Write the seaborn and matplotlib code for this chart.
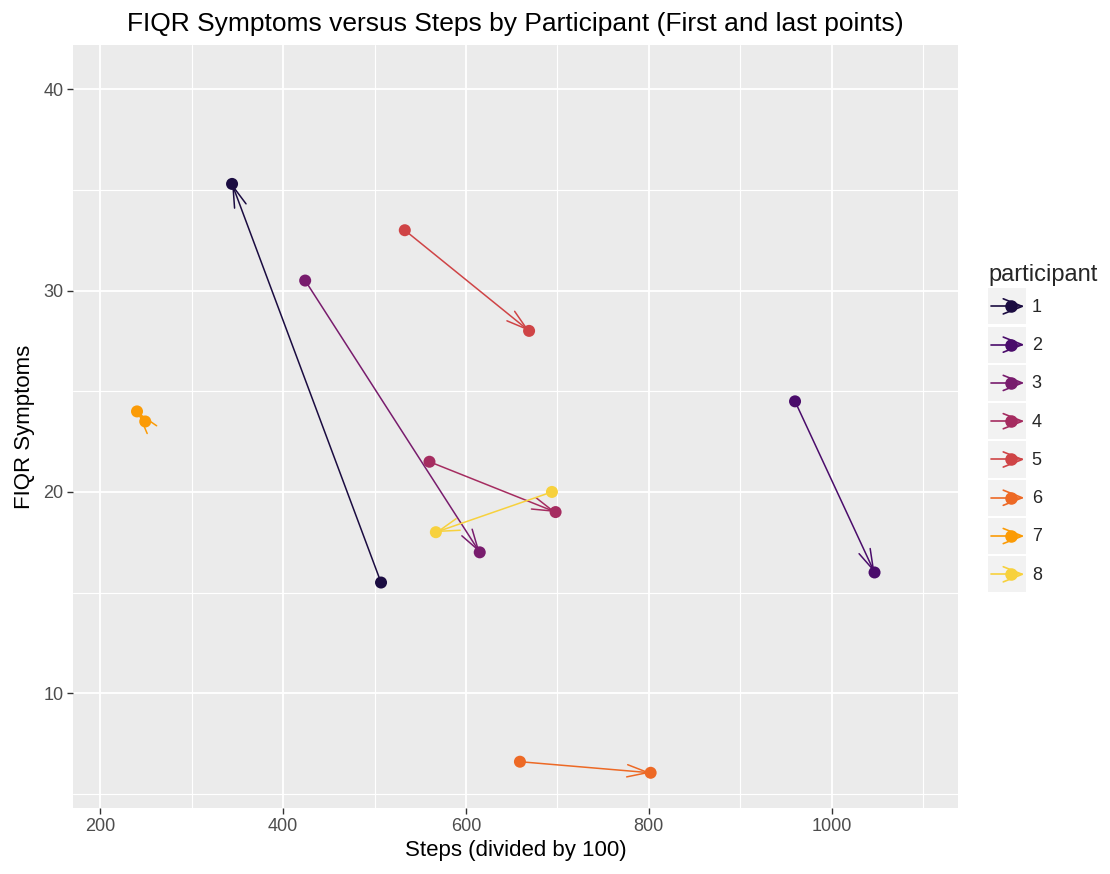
import matplotlib
matplotlib.use("Agg")
import pandas as pd
import matplotlib.pyplot as plt
import seaborn as sns
from matplotlib.lines import Line2D
from matplotlib.patches import Rectangle
from matplotlib.legend_handler import HandlerBase
from matplotlib.ticker import MultipleLocator

# First and last observation per participant
participants = [1, 2, 3, 4, 5, 6, 7, 8]
first_steps = [507, 960, 424, 560, 533, 659, 249, 694]
first_fiqr = [15.5, 24.5, 30.5, 21.5, 33.0, 6.6, 23.5, 20.0]
last_steps = [344, 1047, 615, 698, 669, 802, 240, 567]
last_fiqr = [35.3, 16.0, 17.0, 19.0, 28.0, 6.05, 24.0, 18.0]

x_ticks = [200, 400, 600, 800, 1000]
y_ticks = [10, 20, 30, 40]

first = pd.DataFrame({'participant': participants, 'steps': first_steps, 'fiqr': first_fiqr})
last = pd.DataFrame({'participant': participants, 'steps': last_steps, 'fiqr': last_fiqr})
points = pd.concat([first, last], ignore_index=True)
points['participant'] = points['participant'].astype(str)

palette = sns.color_palette('inferno', len(participants))
colors = dict(zip([str(p) for p in participants], palette))

sns.set_theme(style='darkgrid', rc={'axes.facecolor': '#EBEBEB', 'grid.color': 'white'})
plt.rcParams['font.family'] = ['Liberation Sans', 'DejaVu Sans']

fig = plt.figure(figsize=(11.1, 8.74), dpi=100)
ax = fig.add_axes([0.0658, 0.0755, 0.797, 0.873])

# arrows from first to last point
for i, p in enumerate(participants):
    ax.annotate('', xy=(last_steps[i], last_fiqr[i]), xytext=(first_steps[i], first_fiqr[i]),
                arrowprops=dict(arrowstyle='->,head_length=0.75,head_width=0.22',
                                color=palette[i], lw=1.1, shrinkA=0, shrinkB=0,
                                mutation_scale=20), zorder=3)

sns.scatterplot(data=points, x='steps', y='fiqr', hue='participant', palette=colors,
                s=75, edgecolor='none', legend=False, ax=ax, zorder=4)

ax.set_xlim(170, 1138)
ax.set_ylim(4.3, 42.2)
ax.set_xticks(x_ticks)
ax.set_yticks(y_ticks)
ax.xaxis.set_minor_locator(MultipleLocator(100))
ax.yaxis.set_minor_locator(MultipleLocator(5))
ax.grid(which='major', color='white', linewidth=1.3)
ax.grid(which='minor', color='white', linewidth=0.8)
for s in ax.spines.values():
    s.set_visible(False)
ax.tick_params(axis='both', which='major', length=4, width=1, color='#333333',
               labelcolor='#4D4D4D', labelsize=13, direction='out', bottom=True, left=True, pad=3)
ax.tick_params(which='minor', length=0)

ax.set_xlabel('Steps (divided by 100)', fontsize=16, color='black', labelpad=4)
ax.set_ylabel('FIQR Symptoms', fontsize=16, color='black', labelpad=6)
ax.set_title('FIQR Symptoms versus Steps by Participant (First and last points)',
             fontsize=19, color='black', pad=10)


class ArrowKey(HandlerBase):
    def create_artists(self, legend, orig_handle, xdescent, ydescent, width, height, fontsize, trans):
        c = orig_handle.get_color()
        bg = Rectangle((-xdescent, -ydescent), width, height, facecolor='#F2F2F2',
                       edgecolor='none', transform=trans)
        y = -ydescent + height / 2
        x0, x1 = -xdescent + 2, -xdescent + width - 3
        line = Line2D([x0, x1], [y, y], color=c, lw=1.2, transform=trans)
        h = width * 0.5
        head = Line2D([x1 - h, x1, x1 - h], [y + h * 0.4, y, y - h * 0.4], color=c, lw=1.2,
                      transform=trans)
        dot = Line2D([-xdescent + width * 0.6], [y], marker='o', markersize=8, color=c,
                     linestyle='none', transform=trans)
        return [bg, line, head, dot]


handles = [Line2D([], [], color=palette[i]) for i in range(len(participants))]
labels = [str(p) for p in participants]
leg = fig.legend(handles, labels, title='participant', loc='center left',
                 bbox_to_anchor=(0.884, 0.51), frameon=False, fontsize=13,
                 title_fontsize=17, handler_map={Line2D: ArrowKey()},
                 handlelength=2.1, handleheight=2.7, labelspacing=0.12,
                 handletextpad=0.3, borderaxespad=0)
leg._legend_box.align = 'left'

fig.savefig('out.png', dpi=100)
